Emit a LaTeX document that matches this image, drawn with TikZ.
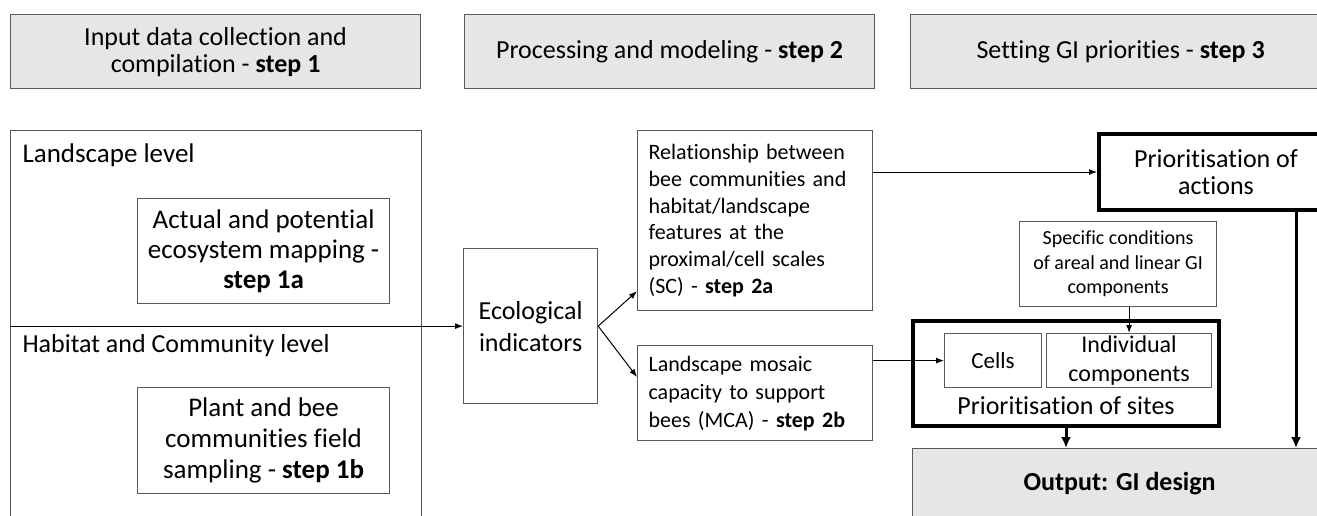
\documentclass[tikz,border=0pt]{standalone}
\usepackage{fontspec}
\setmainfont{Carlito}[Ligatures=NoCommon]
\usetikzlibrary{arrows.meta}

\definecolor{hdrfill}{HTML}{E7E6E6}
\definecolor{boxline}{HTML}{595959}

\begin{document}
\begin{tikzpicture}[x=1pt, y=-1pt,
    box/.style={draw=boxline, line width=1.2pt, anchor=north west, inner sep=0pt, align=center},
    hdrbox/.style={box, fill=hdrfill, minimum width=410pt, minimum height=74pt, font=\fontsize{26}{27}\selectfont},
    boldbox/.style={draw=black, line width=4pt, anchor=north west, inner sep=0pt, align=center},
    arr/.style={-{Latex[length=8pt,width=6pt]}, line width=1pt},
    thickarr/.style={-{Latex[length=11pt,width=10pt]}, line width=3pt}]
        % 画布大小:与原图一致
        \useasboundingbox (0,0) rectangle (1317,516);
        \clip (0,0) rectangle (1317,516);
        % 顶部三个步骤标题
        \node[hdrbox] (step1) at (10,14) {Input data collection and\\compilation - \textbf{step 1}};
        \node[hdrbox] (step2) at (464,14) {Processing and modeling - \textbf{step 2}};
        \node[hdrbox, minimum width=420pt] (step3) at (910,14) {Setting GI priorities - \textbf{step 3}};
        % 左侧输入数据框(底部超出画布)
        \node[box, minimum width=411pt, minimum height=410pt] (input) at (10,130) {};
        \node[anchor=base west, font=\fontsize{27}{30}\selectfont] (landlbl) at (19,163) {Landscape level};
        \node[anchor=base west, font=\fontsize{26}{30}\selectfont] (habitatlbl) at (19,352) {Habitat and Community level};
        \node[box, minimum width=252pt, minimum height=105pt, font=\fontsize{27}{30}\selectfont] (ecomap) at (137,198)
            {Actual and potential\\ecosystem mapping -\\\textbf{step 1a}};
        \node[box, minimum width=252pt, minimum height=106pt, font=\fontsize{27}{31}\selectfont] (field) at (137,387)
            {Plant and bee\\communities field\\sampling - \textbf{step 1b}};
        % 中间:指标与模型
        \node[box, minimum width=134pt, minimum height=155pt, font=\fontsize{26}{32}\selectfont] (eco) at (463,248)
            {Ecological\\indicators};
        \node[box, align=left, text width=213pt, inner xsep=11pt, minimum height=180pt, font=\fontsize{22}{26.7}\selectfont] (ssc) at (637,130)
            {Relationship between\\bee communities and\\habitat/landscape\\features at the\\proximal/cell scales\\(SC) - \textbf{step 2a}};
        \node[box, align=left, text width=213pt, inner xsep=11pt, minimum height=95pt, font=\fontsize{22}{28}\selectfont] (mca) at (637,345)
            {Landscape mosaic\\capacity to support\\bees (MCA) - \textbf{step 2b}};
        % 右侧:优先级与输出
        \node[boldbox, minimum width=234pt, minimum height=76pt, font=\fontsize{26}{27}\selectfont] (actions) at (1097,132)
            {Prioritisation of\\actions};
        \node[box, minimum width=197pt, minimum height=85pt, font=\fontsize{20}{24.5}\selectfont] (spec) at (1019,221)
            {Specific conditions\\of areal and linear GI\\components};
        \node[boldbox, minimum width=306pt, minimum height=105pt] (sites) at (911,319) {};
        \node[anchor=base, font=\fontsize{26}{30}\selectfont] (siteslbl) at ([yshift=14pt]sites.south) {Prioritisation of sites};
        \node[box, minimum width=97pt, minimum height=54pt, font=\fontsize{23}{28}\selectfont] (cells) at (944,333) {Cells};
        \node[box, minimum width=165pt, minimum height=54pt, font=\fontsize{24}{29}\selectfont] (indiv) at (1046,333)
            {Individual\\components};
        \node[box, fill=hdrfill, minimum width=414pt, minimum height=70pt, font=\fontsize{26}{30}\selectfont] (output) at (912,448)
            {\textbf{Output: GI design}};
        % 连线
        \draw[arr] (input.west |- eco.west) -- (eco.west);
        \draw[arr] (eco.east) -- ([yshift=20pt]ssc.south west);
        \draw[arr] (eco.east) -- ([yshift=-32pt]mca.north west);
        \draw[arr] (ssc.east |- actions.west) -- (actions.west);
        \draw[arr] (mca.east |- cells.west) -- (cells.west);
        \draw[arr] (spec.south -| indiv.north) -- (indiv.north);
        \draw[thickarr] (sites.south) -- (sites.south |- output.north);
        \draw[thickarr] ([xshift=-39pt]actions.south east) -- ([xshift=-39pt]actions.south east |- output.north);
    \end{tikzpicture}
\end{document}
